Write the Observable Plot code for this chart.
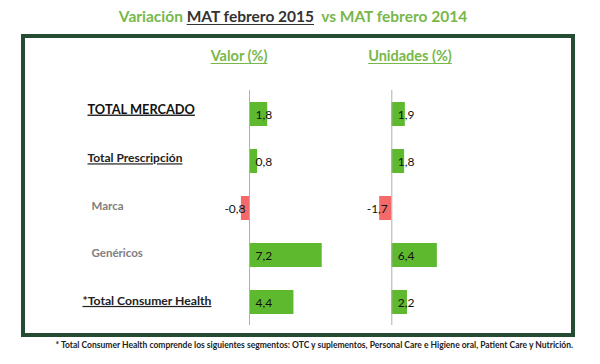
<!DOCTYPE html>
<html>
<head>
<meta charset="utf-8">
<script src="https://cdn.jsdelivr.net/npm/d3@7"></script>
<script src="https://cdn.jsdelivr.net/npm/@observablehq/plot@0.6"></script>
<style>
  html, body { margin: 0; padding: 0; background: #fff; }
  #wrap { position: relative; width: 600px; height: 364px; overflow: hidden; font-family: Lato, "Open Sans", sans-serif; }
  #title { position: absolute; top: 7px; left: 0; width: 586px; text-align: center; font-weight: bold; font-size: 15.5px; color: #77b84a; white-space: nowrap; }
  #title u { color: #333; text-decoration-thickness: 1px; text-underline-offset: 2px; }
  #frame { position: absolute; left: 21px; top: 34px; width: 554px; height: 303px; box-sizing: border-box; border: 4px solid #264b33; }
  .hdr { position: absolute; top: 47px; font-weight: bold; font-size: 14.5px; color: #77b84a; text-decoration: underline; text-decoration-thickness: 1px; text-underline-offset: 2px; white-space: nowrap; transform: translateX(-50%); }
  #foot { position: absolute; top: 340px; right: 27px; font-weight: bold; font-size: 8.5px; color: #222; white-space: nowrap; }
  .plot { position: absolute; left: 0; top: 0; }
</style>
</head>
<body>
<div id="wrap">
  <div id="title">Variación <u>MAT febrero 2015</u>&nbsp; vs MAT febrero 2014</div>
  <div id="frame"></div>
  <div class="hdr" style="left:239px">Valor (%)</div>
  <div class="hdr" style="left:410px">Unidades (%)</div>
  <div id="foot">* Total Consumer Health comprende los siguientes segmentos: OTC y suplementos, Personal Care e Higiene oral, Patient Care y Nutrición.</div>
</div>
<script>
const categorias = ["TOTAL MERCADO", "Total Prescripción", "Marca", "Genéricos", "*Total Consumer Health"];
const valor = [1.8, 0.8, -0.8, 7.2, 4.4];
const unidades = [1.9, 1.8, -1.7, 6.4, 2.2];

const GREEN = "#5fb92f", RED = "#f46a6a";
const fmt = v => d3.format(".1f")(v).replace(".", ",").replace("−", "-");
const subrayadas = ["TOTAL MERCADO", "Total Prescripción", "*Total Consumer Health"];

function panel(values, xRange, withLabels) {
  const data = categorias.map((c, i) => ({cat: c, v: values[i]}));
  const marks = [
    Plot.barX(data, {x: "v", y: "cat", fill: d => d.v >= 0 ? GREEN : RED}),
    Plot.ruleX([0], {stroke: "#b0b0b0", strokeWidth: 1}),
    Plot.text(data.filter(d => d.v >= 0), {x: 0, y: "cat", text: d => fmt(d.v), textAnchor: "start", dx: 6, dy: 1, fontSize: 12, fill: "#111", fontFamily: "Lato"}),
    Plot.text(data.filter(d => d.v < 0), {x: 0, y: "cat", text: d => fmt(d.v), textAnchor: "end", dx: -4, dy: 1, fontSize: 12, fill: "#111", fontFamily: "Lato"})
  ];
  if (withLabels) {
    marks.push(
      Plot.text(categorias.filter(c => c === "TOTAL MERCADO"), {y: d => d, text: d => d, frameAnchor: "left", textAnchor: "start", dy: -5, fontSize: 12.8, fontWeight: "bold", fill: "#111"}),
      Plot.text(categorias.filter(c => c === "Total Prescripción"), {y: d => d, text: d => d, frameAnchor: "left", textAnchor: "start", dy: -3, fontSize: 12, fontWeight: "bold", fill: "#222"}),
      Plot.text(categorias.filter(c => c === "*Total Consumer Health"), {y: d => d, text: d => d, frameAnchor: "left", textAnchor: "start", dx: -5, dy: -1.5, fontSize: 12.2, fontWeight: "bold", fill: "#222"}),
      Plot.text(categorias.filter(c => c === "Marca" || c === "Genéricos"), {y: d => d, text: d => d, frameAnchor: "left", textAnchor: "start", dx: 4, dy: -2, fontSize: 11.5, fontWeight: "bold", fill: "#808080"})
    );
  }
  const svg = Plot.plot({
    width: 600, height: 364,
    marginLeft: 87, marginRight: 20, marginTop: 90, marginBottom: 39,
    style: {background: "transparent", fontFamily: "Lato, 'Open Sans', sans-serif"},
    x: {domain: [0, 10], range: xRange, axis: null},
    y: {type: "band", domain: categorias, paddingInner: 0.5, paddingOuter: 0.25, axis: null},
    marks
  });
  svg.classList.add("plot");
  d3.select(svg).selectAll("text")
    .filter(function() { return subrayadas.includes(this.textContent); })
    .style("text-decoration", "underline");
  return svg;
}

const wrap = document.getElementById("wrap");
wrap.appendChild(panel(valor, [249, 350], true));
wrap.appendChild(panel(unidades, [391.3, 462.5], false));
</script>
</body>
</html>
